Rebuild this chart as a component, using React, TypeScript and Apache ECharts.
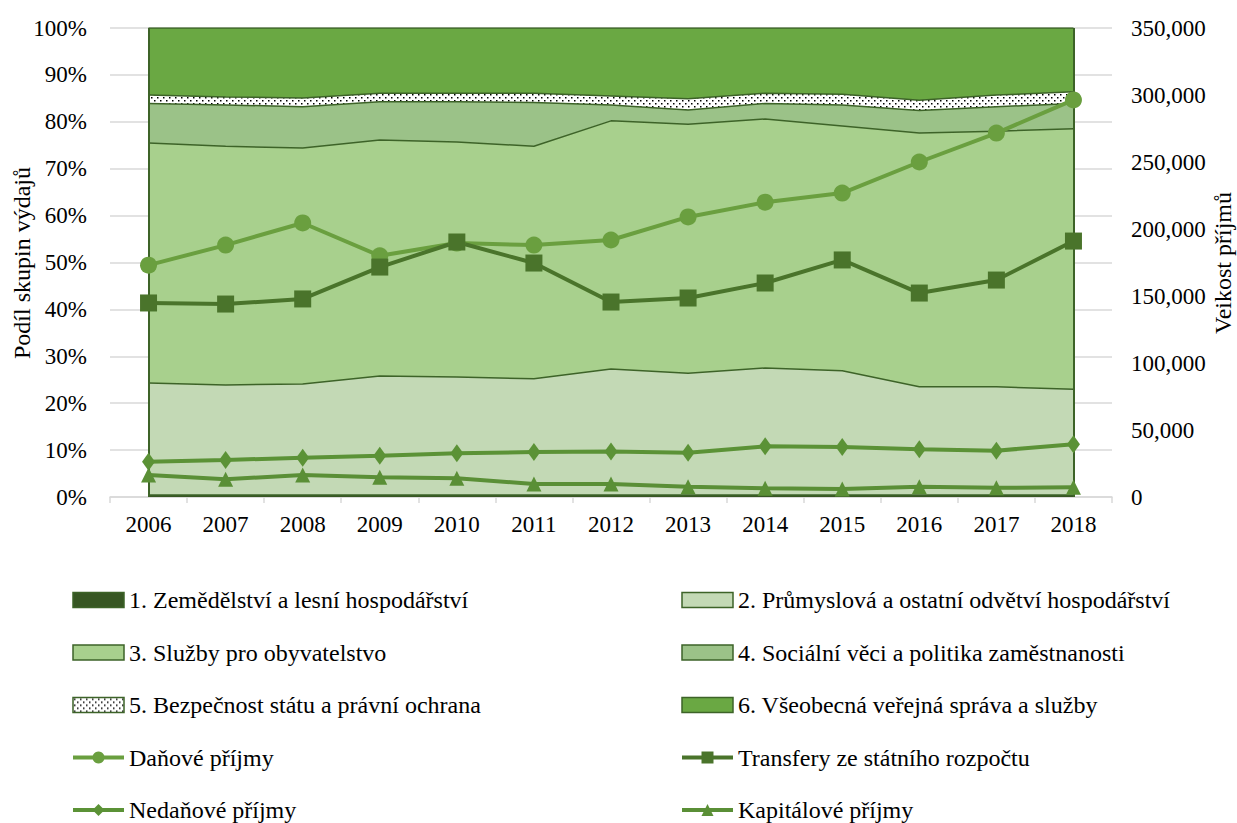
import React, { useEffect, useRef } from "react";
import * as echarts from "echarts";

const years = ["2006", "2007", "2008", "2009", "2010", "2011", "2012", "2013", "2014", "2015", "2016", "2017", "2018"];

// Shares of expenditure groups (% of total)
const zemedelstvi = [0.4, 0.4, 0.4, 0.4, 0.4, 0.4, 0.4, 0.4, 0.4, 0.4, 0.4, 0.4, 0.4];
const prumyslova = [23.9, 23.5, 23.7, 25.4, 25.2, 24.8, 26.9, 26.0, 27.1, 26.5, 23.1, 23.1, 22.6];
const sluzby = [51.2, 50.9, 50.3, 50.3, 50.1, 49.6, 52.9, 53.1, 53.1, 52.2, 54.1, 54.5, 55.5];
const socialni = [8.4, 8.8, 8.8, 8.2, 8.6, 9.3, 3.4, 3.0, 3.3, 4.5, 4.8, 5.2, 5.4];
const bezpecnost = [1.8, 1.7, 1.9, 1.8, 1.8, 2.0, 1.9, 2.4, 2.2, 2.3, 2.2, 2.5, 2.5];
const vseobecna = [14.3, 14.7, 14.9, 13.9, 13.9, 13.9, 14.5, 15.1, 13.9, 14.1, 15.4, 14.3, 13.6];

// Revenues
const danove = [173000, 188000, 204500, 180000, 189500, 188000, 191800, 209000, 220000, 226800, 250000, 271600, 296300];
const transfery = [144800, 144000, 147800, 171600, 190300, 174600, 145500, 148500, 159700, 176900, 152200, 161900, 191000];
const nedanove = [26300, 27600, 29300, 30800, 32600, 33600, 34000, 33100, 37800, 37300, 35600, 34600, 39300];
const kapitalove = [16400, 13200, 16400, 14700, 14000, 9700, 9700, 7700, 6500, 6000, 7700, 6900, 7200];

const areaNames = [
  "1. Zemědělství a lesní hospodářství",
  "2. Průmyslová a ostatní odvětví hospodářství",
  "3. Služby pro obyvatelstvo",
  "4. Sociální věci a politika zaměstnanosti",
  "5. Bezpečnost státu a právní ochrana",
  "6. Všeobecná veřejná správa a služby",
];
const lineNames = ["Daňové příjmy", "Transfery ze státního rozpočtu", "Nedaňové příjmy", "Kapitálové příjmy"];
const leftAxisTitle = "Podíl skupin výdajů";
const rightAxisTitle = "Veikost příjmů";

const FONT = "'Liberation Serif', 'Times New Roman', serif";
const BORDER = "#3d6328";

export default function App() {
  const ref = useRef<HTMLDivElement>(null);
  useEffect(() => {
    if (!ref.current) return;
    const chart = echarts.init(ref.current, null, { renderer: "svg" });

    const cv = document.createElement("canvas");
    cv.width = 6;
    cv.height = 6;
    const ctx = cv.getContext("2d")!;
    ctx.fillStyle = "#ffffff";
    ctx.fillRect(0, 0, 6, 6);
    ctx.fillStyle = "#000000";
    ctx.fillRect(1, 1, 1.5, 1.5);
    ctx.fillRect(4, 4, 1.5, 1.5);
    const dots: any = { image: cv, repeat: "repeat" };

    const areaData = [zemedelstvi, prumyslova, sluzby, socialni, bezpecnost, vseobecna];
    const areaColors: any[] = ["#375623", "#c3d9b5", "#a8d08d", "#9bc288", dots, "#6aa843"];

    const areaSeries = areaData.map((d, i) => ({
      name: areaNames[i],
      type: "line",
      stack: "share",
      yAxisIndex: 0,
      data: d,
      showSymbol: false,
      symbol: "none",
      lineStyle: { color: BORDER, width: 1.5 },
      itemStyle: { color: areaColors[i] },
      areaStyle: { color: areaColors[i], opacity: 1 },
      z: 1,
      silent: true,
      ...(i === 0
        ? {
            markLine: {
              silent: true,
              symbol: "none",
              label: { show: false },
              lineStyle: { color: BORDER, width: 2, type: "solid" },
              data: [{ xAxis: "2006" }, { xAxis: "2018" }],
            },
          }
        : {}),
    }));

    const lineDefs = [
      { data: danove, color: "#6a9f3f", symbol: "circle", size: 17 },
      { data: transfery, color: "#4a742b", symbol: "rect", size: 17 },
      { data: nedanove, color: "#5b9236", symbol: "diamond", size: [13, 18] },
      { data: kapitalove, color: "#5a8f36", symbol: "triangle", size: [15, 15] },
    ];
    const lineSeries = lineDefs.map((l, i) => ({
      name: lineNames[i],
      type: "line",
      yAxisIndex: 1,
      data: l.data,
      symbol: l.symbol,
      symbolSize: l.size,
      showAllSymbol: true,
      lineStyle: { color: l.color, width: 4 },
      itemStyle: { color: l.color },
      z: 5,
    }));

    const areaLegend = (i: number) => ({
      name: areaNames[i],
      icon: "rect",
      itemStyle: { color: areaColors[i], borderColor: BORDER, borderWidth: 1.5 },
    });
    const lineLegend = (i: number) => ({
      name: lineNames[i],
      lineStyle: { width: 4 },
    });

    const legendCommon = {
      orient: "vertical",
      top: 588,
      height: 260,
      padding: 0,
      itemWidth: 51,
      itemHeight: 15,
      itemGap: 28.5,
      selectedMode: false,
      textStyle: { fontFamily: FONT, fontSize: 24, color: "#000", lineHeight: 24 },
    };

    const titleText = (text: string, x: number) => ({
      type: "text",
      x,
      y: 263,
      rotation: Math.PI / 2,
      style: {
        text,
        fontFamily: FONT,
        fontSize: 24,
        fill: "#000",
        textAlign: "center",
        textVerticalAlign: "middle",
      },
    });

    chart.setOption({
      animation: false,
      backgroundColor: "#ffffff",
      grid: { left: 110, right: 125, top: 28, bottom: 326, containLabel: false, outerBoundsMode: "none" },
      graphic: [titleText(leftAxisTitle, 22), titleText(rightAxisTitle, 1223)],
      legend: [
        {
          ...legendCommon,
          left: 71,
          data: [areaLegend(0), areaLegend(2), areaLegend(4), lineLegend(0), lineLegend(2)],
        },
        {
          ...legendCommon,
          left: 680,
          data: [areaLegend(1), areaLegend(3), areaLegend(5), lineLegend(1), lineLegend(3)],
        },
      ],
      xAxis: {
        type: "category",
        data: years,
        boundaryGap: true,
        axisLine: { show: true, lineStyle: { color: "#d9d9d9", width: 1.5 } },
        axisTick: { show: true, length: 6, lineStyle: { color: "#d9d9d9", width: 1.5 } },
        axisLabel: { fontFamily: FONT, fontSize: 23, color: "#000", margin: 16 },
      },
      yAxis: [
        {
          type: "value",
          min: 0,
          max: 100,
          interval: 10,
          axisLine: { show: false },
          axisTick: { show: false },
          axisLabel: { formatter: "{value}%", fontFamily: FONT, fontSize: 23, color: "#000", margin: 23 },
          splitLine: { show: true, lineStyle: { color: "#d9d9d9", width: 1.5 } },
        },
        {
          type: "value",
          min: 0,
          max: 350000,
          interval: 50000,
          position: "right",
          axisLine: { show: false },
          axisTick: { show: false },
          axisLabel: { fontFamily: FONT, fontSize: 23, color: "#000", margin: 19 },
          splitLine: { show: false },
        },
      ],
      series: [...areaSeries, ...lineSeries],
    });

    return () => chart.dispose();
  }, []);

  return <div ref={ref} style={{ position: "absolute", left: 0, top: 0, width: 1237, height: 823 }} />;
}
